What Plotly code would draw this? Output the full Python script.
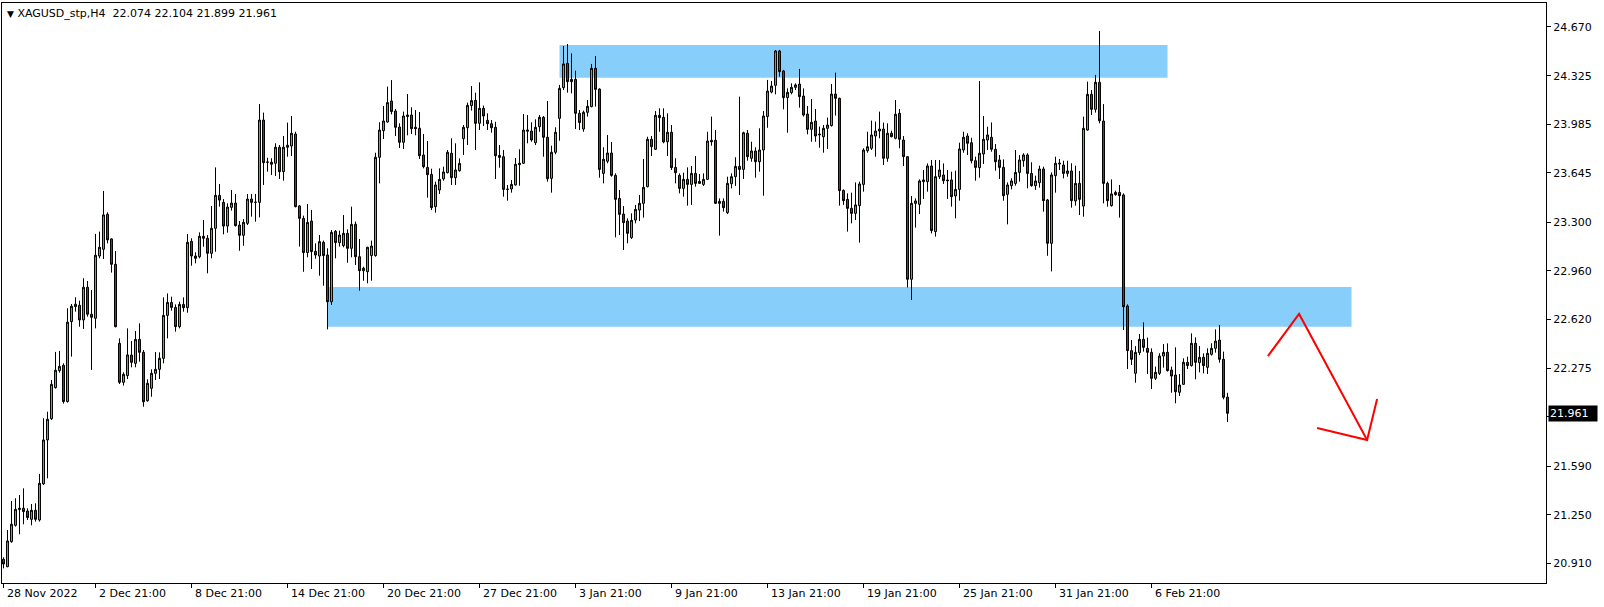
import plotly.graph_objects as go

# ---------------- data (XAGUSD H4) ----------------
opens = [20.938,20.886,21.061,21.176,21.286,21.295,21.276,21.218,21.281,21.213,21.466,21.774,21.923,22.141,22.260,22.297,22.043,22.603,22.708,22.718,
22.615,22.844,22.655,22.627,23.063,23.110,23.355,23.183,23.005,22.451,22.178,22.225,22.369,22.311,22.479,22.388,22.049,22.136,22.241,22.269,
22.346,22.647,22.738,22.703,22.568,22.724,22.701,23.166,23.063,23.058,23.201,23.187,23.082,23.257,23.488,23.439,23.273,23.404,23.434,23.280,
23.208,23.292,23.462,23.439,23.439,24.016,23.720,23.720,23.713,23.825,23.654,23.825,23.834,23.918,23.414,23.327,23.087,23.308,23.096,23.063,
23.159,23.070,22.743,23.236,23.157,23.136,23.222,23.117,23.285,23.058,22.960,22.953,23.066,23.066,23.755,23.941,24.002,24.149,24.079,23.967,
23.860,24.040,24.051,23.965,23.958,23.771,23.684,23.635,23.409,23.526,23.603,23.647,23.783,23.612,23.661,23.885,23.962,24.117,24.154,23.993,
24.098,24.014,23.990,23.965,23.768,23.759,23.530,23.533,23.561,23.703,23.713,23.937,23.939,23.857,23.969,24.035,23.895,23.607,23.790,24.028,
24.243,24.413,24.285,24.301,24.063,23.953,24.070,24.110,24.378,24.233,23.642,23.727,23.785,23.628,23.467,23.357,23.308,23.192,23.315,23.385,
23.432,23.549,23.881,23.811,24.049,24.035,23.864,23.930,23.684,23.628,23.537,23.600,23.565,23.642,23.572,23.565,23.600,23.874,23.874,23.432,
23.446,23.367,23.570,23.619,23.691,23.670,23.923,23.748,23.799,23.724,23.806,24.040,24.212,24.259,24.500,24.360,24.173,24.208,24.245,24.268,
24.184,24.058,23.951,24.009,23.918,23.899,23.958,23.977,24.198,24.168,23.523,23.460,23.397,23.362,23.416,23.565,23.801,23.818,23.904,23.939,
23.953,23.748,23.923,23.888,24.063,23.876,23.759,22.900,23.432,23.425,23.584,23.584,23.694,23.234,23.619,23.631,23.596,23.596,23.484,23.530,
23.806,23.904,23.857,23.731,23.682,23.778,23.876,23.895,23.811,23.736,23.684,23.495,23.556,23.572,23.649,23.731,23.771,23.642,23.556,23.577,
23.673,23.456,23.152,23.626,23.708,23.701,23.642,23.659,23.449,23.572,23.413,23.946,24.196,24.091,24.280,24.009,23.572,23.416,23.509,23.509,
23.491,22.713,22.400,22.241,22.386,22.479,22.416,22.388,22.206,22.241,22.362,22.388,22.264,22.229,22.108,22.164,22.318,22.295,22.451,22.316,
22.353,22.283,22.374,22.416,22.474,22.339,22.074]
highs = [20.952,21.143,21.346,21.365,21.388,21.435,21.295,21.325,21.330,21.536,21.926,21.972,22.194,22.391,22.398,22.311,22.697,22.727,22.774,22.750,
22.907,22.888,22.825,23.218,23.234,23.519,23.369,23.187,23.098,22.486,22.248,22.556,22.467,22.537,22.591,22.404,22.199,22.269,22.390,22.388,
22.773,22.801,22.778,22.724,22.743,22.773,23.217,23.187,23.089,23.229,23.315,23.210,23.413,23.684,23.568,23.462,23.432,23.526,23.498,23.308,
23.322,23.498,23.498,23.498,24.128,24.068,23.752,23.748,23.853,23.841,23.904,23.998,24.044,23.934,23.420,23.346,23.428,23.386,23.152,23.210,
23.171,23.117,23.245,23.245,23.241,23.350,23.250,23.409,23.304,23.182,22.988,23.128,23.171,23.787,24.000,24.114,24.250,24.296,24.093,23.993,
24.075,24.198,24.105,24.086,24.072,23.918,23.869,23.675,23.584,23.677,23.689,23.806,23.888,23.853,23.747,23.981,24.138,24.254,24.208,24.280,
24.117,24.063,24.016,24.004,23.841,23.806,23.561,23.596,23.750,23.811,24.058,24.051,24.000,24.021,24.051,24.044,24.149,23.836,23.965,24.262,
24.535,24.549,24.483,24.362,24.086,24.082,24.156,24.409,24.465,24.238,23.825,23.911,23.862,23.642,23.526,23.413,23.327,23.362,23.421,23.491,
23.743,23.899,23.904,24.079,24.098,24.098,24.063,23.981,23.748,23.642,23.647,23.684,23.694,23.764,23.638,23.642,23.934,24.040,23.946,23.467,
23.467,23.619,23.642,23.755,24.180,23.934,23.946,23.864,23.825,23.958,24.079,24.297,24.290,24.507,24.507,24.367,24.238,24.273,24.273,24.374,
24.238,24.114,24.163,24.093,23.970,23.981,24.033,24.269,24.348,24.173,23.530,23.502,23.507,23.579,23.584,23.818,23.934,24.012,24.005,24.075,
23.998,23.993,23.941,24.156,24.093,23.904,23.764,23.484,23.467,23.600,23.666,23.712,23.736,23.736,23.736,23.712,23.666,23.654,23.661,23.857,
23.934,23.923,23.892,23.759,24.289,24.044,23.969,23.999,23.848,23.771,23.740,23.579,23.607,23.806,23.771,23.783,23.783,23.720,23.626,23.696,
23.689,23.463,23.649,23.759,23.743,23.731,23.731,23.713,23.696,23.659,24.040,24.285,24.226,24.332,24.640,24.128,23.584,23.600,23.521,23.561,
23.502,22.724,22.474,22.432,22.516,22.598,22.491,22.416,22.288,22.381,22.446,22.451,22.288,22.423,22.236,22.346,22.358,22.521,22.493,22.432,
22.381,22.416,22.451,22.549,22.580,22.393,22.104]
lows = [20.874,20.882,21.054,21.167,21.113,21.183,21.213,21.176,21.202,21.202,21.459,21.505,21.914,22.134,22.246,22.029,22.036,22.358,22.673,22.568,
22.552,22.638,22.265,22.556,23.047,23.042,23.152,22.947,22.563,22.166,22.155,22.201,22.283,22.283,22.323,22.007,22.042,22.077,22.194,22.201,
22.311,22.486,22.680,22.533,22.556,22.673,22.666,22.995,23.012,23.047,23.128,22.942,23.047,23.093,23.409,23.215,23.227,23.381,23.269,23.100,
23.135,23.280,23.339,23.304,23.334,23.561,23.654,23.631,23.624,23.603,23.591,23.759,23.764,23.404,23.129,22.953,23.054,22.972,23.044,22.925,
22.855,22.549,22.720,23.047,23.129,23.124,23.016,23.054,23.000,22.820,22.890,22.872,22.890,23.058,23.572,23.883,23.997,24.056,23.904,23.820,
23.813,23.909,23.918,23.909,23.743,23.677,23.472,23.385,23.367,23.498,23.591,23.642,23.561,23.561,23.654,23.771,23.841,24.082,23.806,23.946,
23.974,23.946,23.927,23.603,23.682,23.479,23.451,23.507,23.556,23.556,23.708,23.853,23.864,23.841,23.934,23.759,23.584,23.507,23.776,23.871,
24.226,24.208,24.203,23.953,23.946,23.934,24.040,24.105,24.110,23.612,23.572,23.713,23.619,23.194,23.210,23.105,23.152,23.182,23.292,23.308,
23.332,23.544,23.764,23.806,23.934,23.853,23.764,23.666,23.572,23.502,23.479,23.416,23.421,23.549,23.568,23.554,23.596,23.836,23.428,23.206,
23.374,23.357,23.537,23.554,23.491,23.603,23.731,23.724,23.612,23.654,23.486,23.962,24.203,24.196,24.320,24.091,23.927,24.196,24.226,24.103,
24.040,23.916,23.864,23.864,23.822,23.787,23.813,23.970,24.047,23.416,23.421,23.234,23.292,23.315,23.157,23.514,23.787,23.806,23.759,23.888,
23.701,23.724,23.895,23.881,23.818,23.694,22.843,22.755,23.262,23.357,23.463,23.514,23.222,23.199,23.603,23.568,23.463,23.409,23.327,23.451,
23.787,23.771,23.712,23.591,23.612,23.708,23.806,23.794,23.661,23.603,23.451,23.285,23.530,23.556,23.584,23.689,23.537,23.549,23.526,23.542,
23.374,23.065,22.955,23.507,23.666,23.607,23.619,23.402,23.416,23.350,23.339,23.941,24.051,24.068,23.993,23.432,23.409,23.409,23.486,23.332,
22.545,22.271,22.299,22.175,22.369,22.393,22.236,22.131,22.194,22.229,22.281,22.253,22.105,22.031,22.082,22.159,22.271,22.288,22.199,22.248,
22.241,22.236,22.365,22.386,22.316,22.059,21.899]
closes = [20.905,21.066,21.183,21.288,21.295,21.272,21.230,21.281,21.218,21.470,21.774,21.919,22.164,22.262,22.290,22.043,22.599,22.711,22.725,22.615,
22.844,22.655,22.634,23.068,23.124,23.351,23.176,23.005,22.568,22.178,22.234,22.370,22.318,22.479,22.388,22.042,22.171,22.241,22.269,22.346,
22.647,22.738,22.703,22.568,22.724,22.701,23.159,23.063,23.047,23.201,23.187,23.082,23.257,23.488,23.455,23.273,23.406,23.434,23.276,23.208,
23.299,23.462,23.439,23.440,24.016,23.717,23.721,23.706,23.825,23.654,23.825,23.839,23.923,23.409,23.327,23.087,23.299,23.094,23.070,23.164,
23.066,22.743,23.229,23.157,23.210,23.222,23.117,23.285,23.058,22.960,22.977,23.124,23.133,23.755,23.946,24.009,24.138,24.075,23.965,23.860,
24.044,24.051,23.955,23.955,23.766,23.689,23.633,23.402,23.561,23.600,23.652,23.790,23.612,23.666,23.712,23.965,24.119,24.152,23.993,24.098,
24.044,23.990,23.962,23.766,23.754,23.530,23.531,23.565,23.706,23.713,23.946,23.946,23.876,23.965,24.035,23.895,23.605,23.790,23.930,24.238,
24.409,24.285,24.301,24.063,23.998,24.070,24.112,24.378,24.231,23.670,23.741,23.785,23.628,23.460,23.355,23.297,23.222,23.313,23.390,23.432,
23.544,23.881,23.829,24.049,24.033,23.862,23.930,23.682,23.647,23.537,23.600,23.565,23.642,23.572,23.586,23.600,23.869,23.864,23.432,23.446,
23.402,23.572,23.619,23.691,23.670,23.927,23.759,23.799,23.724,23.806,24.044,24.219,24.254,24.500,24.355,24.173,24.210,24.245,24.262,24.180,
24.051,23.951,24.000,23.904,23.913,23.958,23.981,24.198,24.168,23.521,23.451,23.397,23.362,23.421,23.568,23.806,23.829,23.911,23.939,23.953,
23.748,23.923,23.899,24.056,23.881,23.759,22.900,23.432,23.449,23.589,23.596,23.694,23.241,23.619,23.666,23.591,23.591,23.479,23.530,23.813,
23.895,23.853,23.731,23.684,23.783,23.881,23.911,23.811,23.724,23.684,23.486,23.561,23.589,23.649,23.736,23.771,23.642,23.556,23.589,23.673,
23.451,23.152,23.631,23.713,23.713,23.642,23.659,23.451,23.572,23.460,23.958,24.196,24.091,24.280,24.011,23.572,23.451,23.498,23.493,23.486,
22.708,22.400,22.339,22.388,22.479,22.423,22.388,22.206,22.248,22.362,22.388,22.260,22.222,22.112,22.159,22.318,22.295,22.451,22.318,22.353,
22.295,22.381,22.416,22.467,22.339,22.073,21.961]

# time-axis labels: bar index and text
time_label_bars = [0, 23, 47, 71, 95, 119, 143, 167, 191, 215, 239, 263, 287]
time_labels = ["28 Nov 2022", "2 Dec 21:00", "8 Dec 21:00", "14 Dec 21:00", "20 Dec 21:00",
               "27 Dec 21:00", "3 Jan 21:00", "9 Jan 21:00", "13 Jan 21:00", "19 Jan 21:00",
               "25 Jan 21:00", "31 Jan 21:00", "6 Feb 21:00"]

price_ticks = [24.670, 24.325, 23.985, 23.645, 23.300, 22.960, 22.620, 22.275, 21.935, 21.590, 21.250, 20.910]

# zones: (first bar, last bar, low price, high price)
zones = [(139, 291, 24.312, 24.541), (81, 337, 22.568, 22.846)]

# hand-drawn arrow (bar, price)
arrow_path = [(316.1, 22.362), (323.9, 22.657), (340.9, 21.774)]
arrow_head = [(328.4, 21.858), (340.9, 21.774), (343.4, 22.061)]

symbol = "XAGUSD_stp,H4"

# ---------------- figure ----------------
bars = list(range(len(closes)))
FONT = "DejaVu Sans"

fig = go.Figure()
fig.add_trace(go.Candlestick(
    x=bars, open=opens, high=highs, low=lows, close=closes,
    increasing=dict(line=dict(color="black", width=1), fillcolor="#00FF00"),
    decreasing=dict(line=dict(color="black", width=1), fillcolor="#FF0000"),
    whiskerwidth=0, hoverinfo="skip", showlegend=False,
))

ax = [p[0] for p in arrow_path] + [None] + [p[0] for p in arrow_head]
ay = [p[1] for p in arrow_path] + [None] + [p[1] for p in arrow_head]
fig.add_trace(go.Scatter(x=ax, y=ay, mode="lines", line=dict(color="#FF0000", width=2),
                         hoverinfo="skip", showlegend=False))

for b0, b1, lo, hi in zones:
    fig.add_shape(type="rect", xref="x", yref="y", x0=b0, x1=b1, y0=lo, y1=hi,
                  fillcolor="#87CEFA", line=dict(width=0), layer="below")

annotations = []
for b, t in zip(time_label_bars, time_labels):
    annotations.append(dict(x=b, y=0, xref="x", yref="paper", xanchor="left", yanchor="top",
                            text=t, showarrow=False, xshift=1, yshift=-2,
                            font=dict(family=FONT, size=11, color="black")))

annotations.append(dict(
    x=0, y=1, xref="paper", yref="paper", xanchor="left", yanchor="top", showarrow=False,
    xshift=3, yshift=-2,
    text="<span style='font-size:9px'>\u25BC</span> " + symbol + "\u00a0\u00a0" +
         " ".join(f"{v:.3f}" for v in (opens[-1], highs[-1], lows[-1], closes[-1])),
    font=dict(family=FONT, size=11, color="black")))

annotations.append(dict(
    x=1, y=closes[-1], xref="paper", yref="y", xanchor="left", yanchor="middle", showarrow=False,
    text=f"{closes[-1]:.3f}", bgcolor="black", borderpad=1, width=46, height=13, align="left",
    xshift=2, font=dict(family=FONT, size=11, color="white")))

fig.update_layout(
    width=1604, height=607,
    margin=dict(l=2, r=58, t=3, b=24),
    paper_bgcolor="white", plot_bgcolor="white",
    boxgap=0.3, boxgroupgap=0.3,
    showlegend=False,
    annotations=annotations,
    xaxis=dict(range=[-0.375, 385.625], rangeslider=dict(visible=False), showgrid=False, zeroline=False,
               showline=True, mirror=True, linecolor="black", linewidth=1,
               tickmode="array", tickvals=time_label_bars, showticklabels=False,
               ticks="outside", ticklen=4, tickcolor="black", fixedrange=True),
    yaxis=dict(range=[20.7716, 24.8361], side="right", showgrid=False, zeroline=False,
               showline=True, mirror=True, linecolor="black", linewidth=1,
               tickmode="array", tickvals=price_ticks, ticktext=[f"{v:.3f}" for v in price_ticks],
               ticks="outside", ticklen=4, tickcolor="black",
               tickfont=dict(family=FONT, size=11, color="black"), fixedrange=True),
    font=dict(family=FONT, size=11, color="black"),
)

fig.write_html("out.html", config={"displayModeBar": False},
               post_script="document.body.style.margin='0';document.body.style.overflow='hidden';")
